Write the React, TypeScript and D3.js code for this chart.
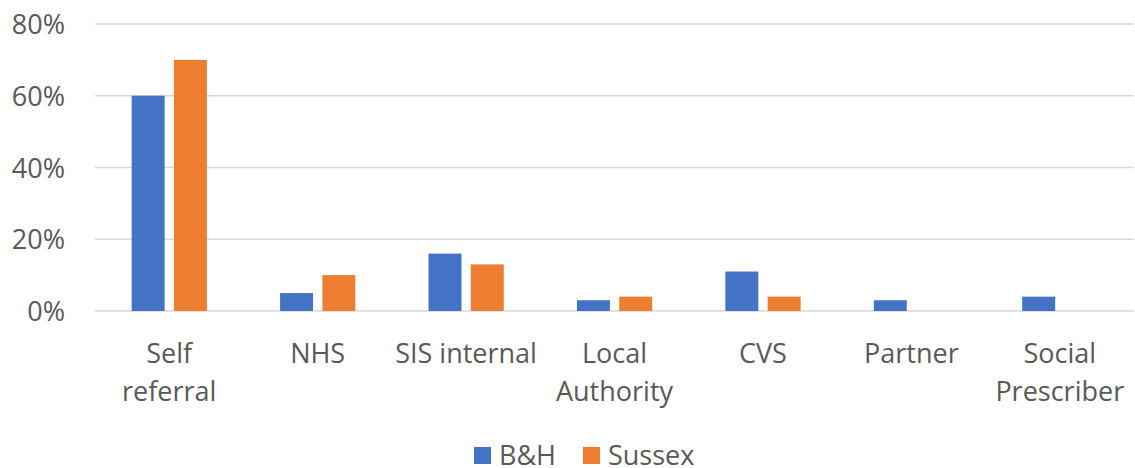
import React, { useEffect, useRef } from 'react';
import * as d3 from 'd3';

const categories = ['Self referral', 'NHS', 'SIS internal', 'Local Authority', 'CVS', 'Partner', 'Social Prescriber'];
const categoryLines = [['Self', 'referral'], ['NHS'], ['SIS internal'], ['Local', 'Authority'], ['CVS'], ['Partner'], ['Social', 'Prescriber']];
const seriesNames = ['B&H', 'Sussex'];
const bhValues = [0.60, 0.05, 0.16, 0.03, 0.11, 0.03, 0.04];
const sussexValues = [0.70, 0.10, 0.13, 0.04, 0.04, 0, 0];
const yTicks = [0, 0.2, 0.4, 0.6, 0.8];
const colors = ['#4472C4', '#ED7D31'];

const App = () => {
  const svgRef = useRef<SVGSVGElement>(null);

  useEffect(() => {
    const width = 1135;
    const height = 468;
    const font = "'Open Sans', sans-serif";
    const textColor = '#595959';

    const svg = d3.select(svgRef.current)
      .attr('width', width)
      .attr('height', height);
    svg.selectAll('*').remove();

    const x0 = d3.scaleBand().domain(categories).range([95, 1134]).padding(0);
    const bw = x0.bandwidth();
    const x1 = d3.scaleBand().domain(seriesNames)
      .range([bw * 0.247, bw * 0.754])
      .paddingInner(0.22).paddingOuter(0);
    const y = d3.scaleLinear().domain([0, 0.8]).range([311, 24]);

    // gridlines
    svg.append('g').selectAll('line')
      .data(yTicks)
      .enter().append('line')
      .attr('x1', 95).attr('x2', 1134)
      .attr('y1', d => y(d)).attr('y2', d => y(d))
      .attr('stroke', '#d9d9d9')
      .attr('stroke-width', 1.5);

    // y labels
    svg.append('g').selectAll('text')
      .data(yTicks)
      .enter().append('text')
      .attr('x', 65)
      .attr('y', d => y(d) + 10)
      .attr('text-anchor', 'end')
      .attr('font-family', font)
      .attr('font-size', 27)
      .attr('fill', textColor)
      .text(d => d3.format('.0%')(d));

    // bars
    const rows = categories.map((c, i) => ({ cat: c, vals: [bhValues[i], sussexValues[i]] }));
    const groups = svg.append('g').selectAll('g')
      .data(rows)
      .enter().append('g')
      .attr('transform', d => `translate(${x0(d.cat)},0)`);
    groups.selectAll('rect')
      .data(d => d.vals.map((v, j) => ({ s: seriesNames[j], v, j })))
      .enter().append('rect')
      .attr('x', d => x1(d.s) as number)
      .attr('width', x1.bandwidth())
      .attr('y', d => y(d.v))
      .attr('height', d => y(0) - y(d.v))
      .attr('fill', d => colors[d.j]);

    // category labels
    const labels = svg.append('g').selectAll('text')
      .data(categories)
      .enter().append('text')
      .attr('text-anchor', 'middle')
      .attr('font-family', font)
      .attr('font-size', 27)
      .attr('fill', textColor)
      .attr('transform', d => `translate(${(x0(d) as number) + bw / 2},0)`);
    labels.selectAll('tspan')
      .data((d, i) => categoryLines[i])
      .enter().append('tspan')
      .attr('x', 0)
      .attr('y', (d, i) => 363 + i * 38)
      .text(d => d);

    // legend
    const legendX = [474, 583];
    const legend = svg.append('g').selectAll('g')
      .data(seriesNames)
      .enter().append('g')
      .attr('transform', (d, i) => `translate(${legendX[i]},447)`);
    legend.append('rect')
      .attr('width', 17).attr('height', 17)
      .attr('fill', (d, i) => colors[i]);
    legend.append('text')
      .attr('x', 25).attr('y', 18)
      .attr('font-family', font)
      .attr('font-size', 27)
      .attr('fill', textColor)
      .text(d => d);

    return () => {
      d3.select(svgRef.current).selectAll('*').remove();
    };
  }, []);

  return (
    <svg ref={svgRef} style={{ position: 'absolute', left: 0, top: 0, background: '#fff' }}></svg>
  );
};

export default App;
